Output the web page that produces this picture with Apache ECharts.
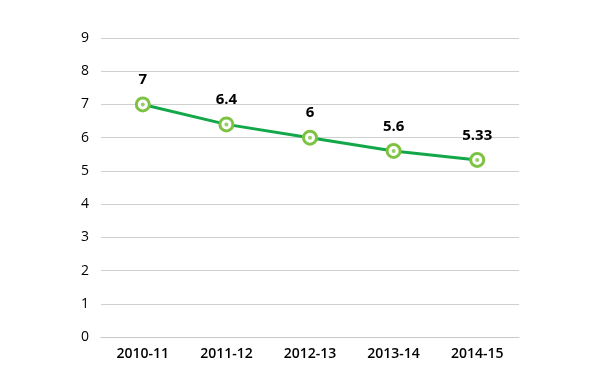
<!DOCTYPE html>
<html><head><meta charset="utf-8">
<script src="https://cdn.jsdelivr.net/npm/echarts@6/dist/echarts.min.js"></script>
<style>html,body{margin:0;padding:0;background:#fff}#c{width:605px;height:383px}</style>
</head><body><div id="c"></div>
<script>
const categories = ['2010-11','2011-12','2012-13','2013-14','2014-15'];
const values = [7, 6.4, 6, 5.6, 5.33];
const yTicks = [0,1,2,3,4,5,6,7,8,9];

const chart = echarts.init(document.getElementById('c'));
chart.setOption({
  animation: false,
  grid: {left: 101, right: 86, top: 38, bottom: 46},
  xAxis: {
    type: 'category', data: categories, boundaryGap: true,
    axisLine: {lineStyle: {color: '#c8c8c8', width: 1}},
    axisTick: {inside: true, length: 10, lineStyle: {color: '#c8c8c8'}},
    axisLabel: {color: '#000', fontSize: 14, fontWeight: 600, fontFamily: 'Open Sans', margin: 10}
  },
  yAxis: {
    type: 'value', min: yTicks[0], max: yTicks[yTicks.length-1], interval: 1,
    axisLine: {show: false}, axisTick: {show: false},
    splitLine: {lineStyle: {color: '#cfcfcf', width: 1}},
    axisLabel: {color: '#000', fontSize: 14, fontFamily: 'Open Sans', margin: 12}
  },
  series: [{
    type: 'line', data: values,
    lineStyle: {color: '#12a84a', width: 3},
    symbol: 'circle', symbolSize: 13,
    itemStyle: {color: '#ffffff', borderColor: '#7dc242', borderWidth: 3},
    label: {show: true, position: 'top', distance: 9, color: '#000', fontSize: 15, fontWeight: 'bold', fontFamily: 'Open Sans'},
    z: 2
  }, {
    type: 'scatter', data: values, symbol: 'circle', symbolSize: 4,
    itemStyle: {color: '#7dc242'}, z: 3, silent: true
  }]
});
</script></body></html>
